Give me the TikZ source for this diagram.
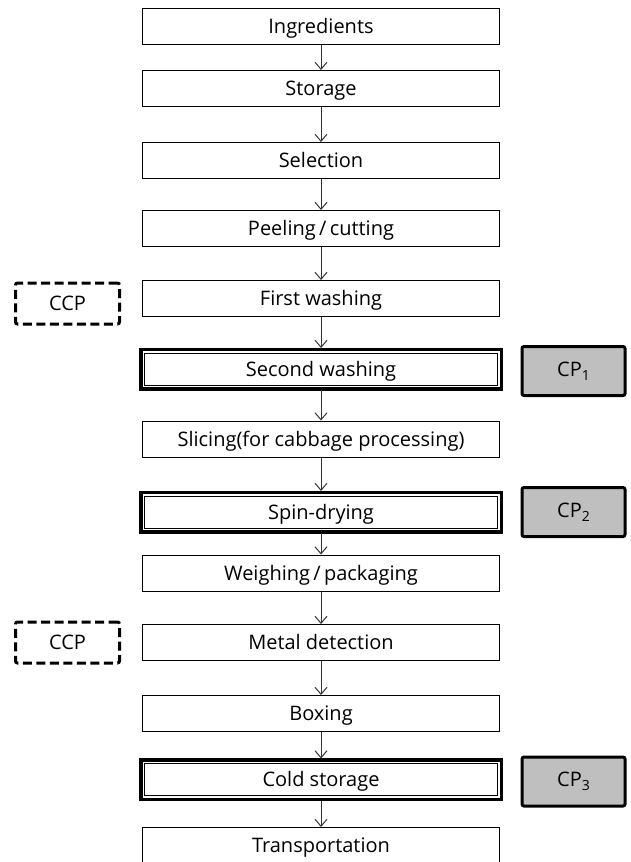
\documentclass[tikz,border=0pt]{standalone}
\usepackage{fontspec}
\setmainfont{Open Sans}
\usetikzlibrary{arrows.meta, positioning}
\newcommand{\cpsub}[1]{\raisebox{-4pt}{\fontsize{14}{14}\selectfont #1}}

\begin{document}
\begin{tikzpicture}[x=1pt, y=-1pt, node distance=20pt,
  stage/.style={draw, line width=1pt, minimum width=357pt, minimum height=36pt, inner sep=0pt,
    text height=16pt, text depth=2pt, font=\fontsize{20}{22}\selectfont},
  keystage/.style={stage, fill=white, minimum width=353pt, minimum height=32pt, outer sep=5pt,
    preaction={draw, line width=11pt}, preaction={draw, white, line width=4pt}},
  cpbox/.style={draw, line width=3pt, rounded corners=2pt, fill=black!25, minimum width=103pt,
    minimum height=49pt, font=\fontsize{20}{22}\selectfont},
  ccpbox/.style={draw, line width=3pt, dash pattern=on 9pt off 4.5pt, rounded corners=2pt,
    minimum width=104pt, minimum height=41pt, font=\fontsize{20}{22}\selectfont},
  flow/.style={draw=black!80, line width=1pt, -{Straight Barb[length=7pt, width=12pt]}}]
  \clip (0,0) rectangle (630,862);
  \node[stage] (ingr) at (321,26.5) {Ingredients};
  \node[stage] (stor) at (321,88.5) {Storage};
  \node[stage] (sel) at (321,160.5) {Selection};
  \node[stage] (peel) at (321,228.5) {Peeling\,/\,cutting};
  \node[stage] (wash1) at (321,298.5) {First washing};
  \node[keystage] (wash2) at (321,369) {Second washing};
  \node[stage] (slice) at (321,439) {Slicing(for cabbage processing)};
  \node[keystage] (spin) at (321,512) {Spin-drying};
  \node[stage] (weigh) at (321,573) {Weighing\,/\,packaging};
  \node[stage] (metal) at (321,642.5) {Metal detection};
  \node[stage] (boxing) at (321,713.5) {Boxing};
  \node[keystage] (cold) at (321,779.5) {Cold storage};
  \node[stage] (trans) at (321,845.5) {Transportation};
  % control points
  \node[ccpbox, left=21pt of wash1, yshift=-5pt] (ccp1) {CCP};
  \node[ccpbox, left=21pt of metal] (ccp2) {CCP};
  \node[cpbox, right=18pt of wash2, yshift=-2pt] (cp1) {CP\cpsub{1}};
  \node[cpbox, right=18pt of spin] (cp2) {CP\cpsub{2}};
  \node[cpbox, right=18pt of cold, yshift=-2pt] (cp3) {CP\cpsub{3}};
  \foreach \a/\b in {ingr/stor, stor/sel, sel/peel, peel/wash1, wash1/wash2, wash2/slice,
    slice/spin, spin/weigh, weigh/metal, metal/boxing, boxing/cold, cold/trans}
    \draw[flow] (\a) -- (\b);
\end{tikzpicture}
\end{document}
